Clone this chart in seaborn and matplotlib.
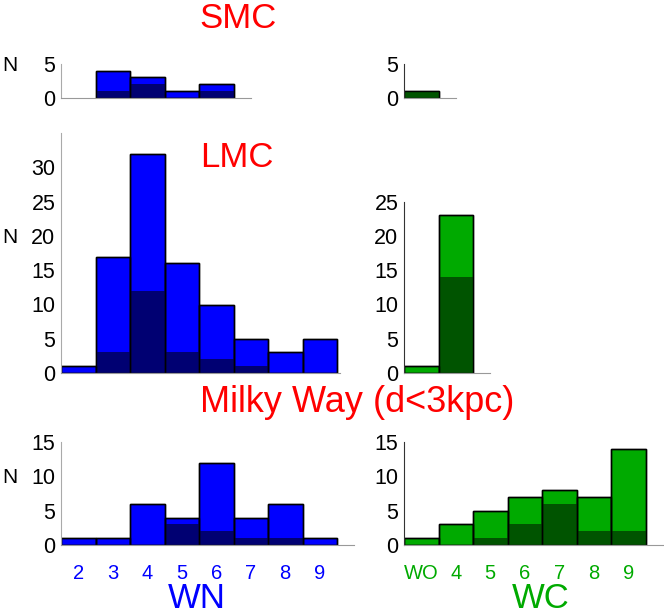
# Distribucion de subtipos WR en SMC, LMC y Via Lactea
import matplotlib.pyplot as plt
import seaborn as sns

# Subtipos (posicion numerica en el eje x)
wn_types = [2, 3, 4, 5, 6, 7, 8, 9]
wc_types = [3, 4, 5, 6, 7, 8, 9]
wc_labels = ["WO", "4", "5", "6", "7", "8", "9"]

# Conteos totales y parte oscura por panel
smc_wn_types = [3, 4, 5, 6]
smc_wn_total = [4, 3, 1, 2]
smc_wn_dark = [1, 2, 0, 1]

smc_wc_types = [3]
smc_wc_total = [1]
smc_wc_dark = [1]

lmc_wn_total = [1, 17, 32, 16, 10, 5, 3, 5]
lmc_wn_dark = [0, 3, 12, 3, 2, 1, 0, 0]

lmc_wc_types = [3, 4]
lmc_wc_total = [1, 23]
lmc_wc_dark = [0, 14]

mw_wn_total = [1, 1, 6, 4, 12, 4, 6, 1]
mw_wn_dark = [0, 0, 0, 3, 2, 1, 1, 0]

mw_wc_total = [1, 3, 5, 7, 8, 7, 14]
mw_wc_dark = [0, 0, 1, 3, 6, 2, 2]

blue, navy = "#0000ff", "#000072"
green, dkgreen = "#00aa00", "#005400"

W, H = 664, 615
sx, sy = 34.5, 6.85  # pixeles por unidad

plt.rcParams["font.family"] = ["Liberation Sans", "DejaVu Sans"]
fig = plt.figure(figsize=(W / 100, H / 100), dpi=100)


def panel(left, base, xlim, ylim):
    w = (xlim[1] - xlim[0]) * sx
    h = (ylim[1] - ylim[0]) * sy
    ax = fig.add_axes([left / W, 1 - base / H, w / W, h / H])
    return ax


def hist(ax, types, total, dark, c1, c2, xlim, ylim, yticks, left_col):
    sns.histplot(ax=ax, x=types, weights=total, discrete=True, color=c1,
                 alpha=1, edgecolor="black", linewidth=1)
    sns.histplot(ax=ax, x=types, weights=dark, discrete=True, color=c2,
                 alpha=1, linewidth=0)
    sns.histplot(ax=ax, x=types, weights=total, discrete=True, fill=False,
                 color="black", linewidth=1)
    ax.set(xlabel=None, ylabel=None, xlim=xlim, ylim=ylim, yticks=yticks)
    sns.despine(ax=ax)
    ax.spines["left"].set_color("#aaaaaa" if left_col else "#333333")
    ax.spines["bottom"].set_color("#999999")
    ax.tick_params(length=0, labelsize=15.5, pad=4)
    ax.set_xticks([])


# SMC
ax = panel(61, 98, (1.5, 7.0), (0, 5))
hist(ax, smc_wn_types, smc_wn_total, smc_wn_dark, blue, navy, (1.5, 7.0), (0, 5), [0, 5], True)
ax = panel(404, 98, (2.5, 4.0), (0, 5))
hist(ax, smc_wc_types, smc_wc_total, smc_wc_dark, green, dkgreen, (2.5, 4.0), (0, 5), [0, 5], False)

# LMC
ax = panel(61, 373, (1.5, 9.6), (0, 35))
hist(ax, wn_types, lmc_wn_total, lmc_wn_dark, blue, navy, (1.5, 9.6), (0, 35), range(0, 31, 5), True)
ax = panel(404, 373, (2.5, 5.0), (0, 25))
hist(ax, lmc_wc_types, lmc_wc_total, lmc_wc_dark, green, dkgreen, (2.5, 5.0), (0, 25), range(0, 26, 5), False)

# Via Lactea
ax = panel(61, 545, (1.5, 10.0), (0, 15))
hist(ax, wn_types, mw_wn_total, mw_wn_dark, blue, navy, (1.5, 10.0), (0, 15), [0, 5, 10, 15], True)
ax.set_xticks(wn_types)
ax.tick_params(axis="x", labelsize=14.5, labelcolor=blue, pad=13.5)

ax = panel(404, 545, (2.5, 10.0), (0, 15))
hist(ax, wc_types, mw_wc_total, mw_wc_dark, green, dkgreen, (2.5, 10.0), (0, 15), [0, 5, 10, 15], False)
ax.set_xticks(wc_types, wc_labels)
ax.tick_params(axis="x", labelsize=14.5, labelcolor=green, pad=13.5)

# Textos
def ftext(x, y, s, va="baseline", **kw):
    fig.text(x / W, 1 - y / H, s, ha="center", va=va, **kw)

ftext(238, 28, "SMC", color="red", fontsize=25)
ftext(237, 167, "LMC", color="red", fontsize=25)
ftext(357, 412, "Milky Way (d<3kpc)", color="red", fontsize=26)
for y in [71, 243, 483]:
    ftext(10, y, "N", fontsize=15)
ftext(197, 614.5, "WN", va="bottom", color=blue, fontsize=25)
ftext(541, 614.5, "WC", va="bottom", color=green, fontsize=25)

fig.savefig("out.png", dpi=100)
